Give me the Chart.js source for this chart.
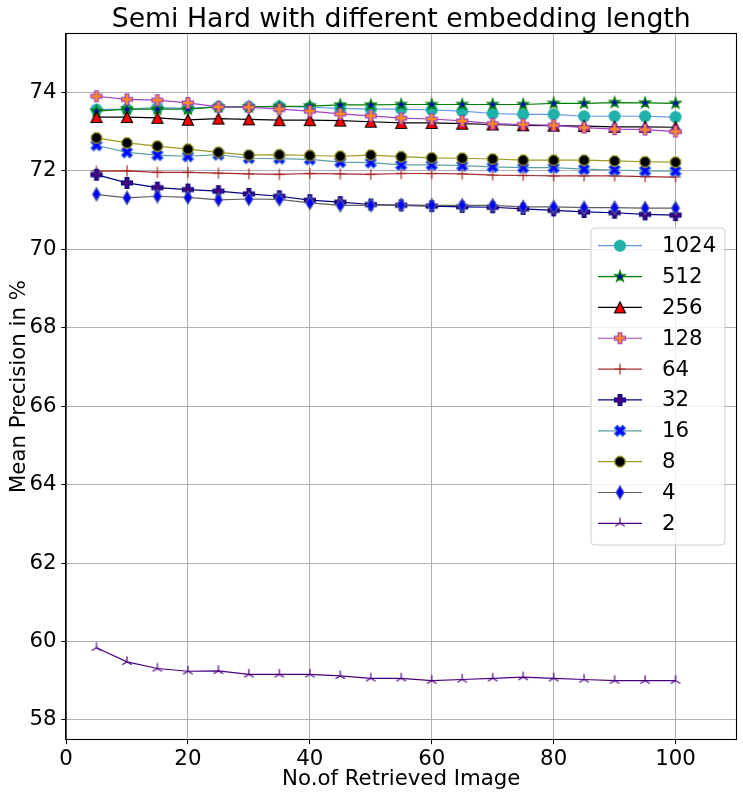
<!DOCTYPE html>
<html>
<head>
<meta charset="utf-8">
<script src="https://cdn.jsdelivr.net/npm/chart.js@4.4.1/dist/chart.umd.min.js"></script>
<style>
  html, body { margin: 0; padding: 0; background: #ffffff; }
  #wrap { width: 743px; height: 798px; }
</style>
</head>
<body>
<div id="wrap"><canvas id="c" width="743" height="798"></canvas></div>
<script>
// ---------------- data ----------------
const chartTitle = 'Semi Hard with different embedding length';
const xLabel = 'No.of Retrieved Image';
const yLabel = 'Mean Precision in %';
const retrieved = [5, 10, 15, 20, 25, 30, 35, 40, 45, 50, 55, 60, 65, 70, 75, 80, 85, 90, 95, 100];
const xTicks = [0, 20, 40, 60, 80, 100];
const yTicks = [58, 60, 62, 64, 66, 68, 70, 72, 74];
const seriesNames = ['1024', '512', '256', '128', '64', '32', '16', '8', '4', '2'];

const p1024 = [73.56, 73.57, 73.61, 73.59, 73.63, 73.63, 73.64, 73.62, 73.59, 73.57, 73.57, 73.55, 73.52, 73.46, 73.44, 73.44, 73.39, 73.39, 73.39, 73.37];
const p512  = [73.52, 73.57, 73.57, 73.57, 73.63, 73.63, 73.64, 73.65, 73.68, 73.68, 73.69, 73.69, 73.69, 73.69, 73.69, 73.72, 73.72, 73.74, 73.73, 73.72];
const p256  = [73.37, 73.37, 73.35, 73.30, 73.33, 73.31, 73.29, 73.29, 73.28, 73.25, 73.22, 73.22, 73.20, 73.18, 73.16, 73.15, 73.14, 73.12, 73.12, 73.11];
const p128  = [73.90, 73.82, 73.80, 73.73, 73.63, 73.62, 73.57, 73.52, 73.45, 73.40, 73.34, 73.32, 73.27, 73.20, 73.18, 73.16, 73.10, 73.06, 73.05, 73.00];
const p64   = [71.99, 72.00, 71.96, 71.96, 71.94, 71.92, 71.91, 71.93, 71.92, 71.91, 71.93, 71.93, 71.92, 71.89, 71.88, 71.87, 71.87, 71.87, 71.85, 71.84];
const p32   = [71.90, 71.69, 71.57, 71.52, 71.48, 71.41, 71.35, 71.25, 71.20, 71.14, 71.12, 71.10, 71.08, 71.07, 71.03, 70.99, 70.95, 70.93, 70.89, 70.87];
const p16   = [72.65, 72.47, 72.40, 72.37, 72.41, 72.32, 72.31, 72.29, 72.22, 72.21, 72.15, 72.15, 72.13, 72.10, 72.08, 72.08, 72.04, 72.02, 72.00, 71.99];
const p8    = [72.84, 72.71, 72.63, 72.55, 72.47, 72.40, 72.41, 72.39, 72.37, 72.40, 72.36, 72.33, 72.32, 72.30, 72.27, 72.27, 72.27, 72.25, 72.23, 72.22];
const p4    = [71.40, 71.31, 71.35, 71.32, 71.26, 71.28, 71.27, 71.18, 71.12, 71.12, 71.13, 71.12, 71.12, 71.12, 71.08, 71.08, 71.06, 71.06, 71.05, 71.05];
const p2    = [59.84, 59.48, 59.31, 59.24, 59.25, 59.16, 59.16, 59.16, 59.12, 59.06, 59.06, 59.00, 59.03, 59.06, 59.09, 59.06, 59.03, 59.00, 59.00, 59.00];

const seriesValues = [p1024, p512, p256, p128, p64, p32, p16, p8, p4, p2];

// ---------------- styles ----------------
const FONT = 'DejaVu Sans';
const styles = [
  { line: '#6495ED', shape: 'circle',   fill: '#20B2AA', edge: '#20B2AA' },
  { line: '#008000', shape: 'star',     fill: '#0000CD', edge: '#008000' },
  { line: '#000000', shape: 'triangle', fill: '#FF0000', edge: '#000000' },
  { line: '#A040C8', shape: 'plusF',    fill: '#FF8C1A', edge: '#A040C8' },
  { line: '#A52A2A', shape: 'plus',     fill: null,      edge: '#A52A2A' },
  { line: '#000080', shape: 'plusF',    fill: '#4B0082', edge: '#000080' },
  { line: '#5F9EA0', shape: 'xF',       fill: '#0000FF', edge: '#3060E0' },
  { line: '#9A9A20', shape: 'octagon',  fill: '#000000', edge: '#9A9A20' },
  { line: '#606060', shape: 'thinDiamond', fill: '#0000FF', edge: '#5060A0' },
  { line: '#4B0082', shape: 'triUp',    fill: null,      edge: '#4B0082' }
];

function makeMarker(shape, fill, edge) {
  const S = 22, c = document.createElement('canvas');
  c.width = S; c.height = S;
  const g = c.getContext('2d');
  const cx = S / 2, cy = S / 2;
  const ms = 11; // marker size in px
  const r = ms / 2;
  g.lineWidth = 1.2;
  g.strokeStyle = edge;
  g.fillStyle = fill || edge;
  g.lineJoin = 'miter';
  g.beginPath();
  if (shape === 'circle') {
    g.arc(cx, cy, r, 0, Math.PI * 2);
  } else if (shape === 'star') {
    const ro = r * 1.05, ri = ro * 0.381966;
    for (let i = 0; i < 10; i++) {
      const a = -Math.PI / 2 + i * Math.PI / 5;
      const rr = i % 2 === 0 ? ro : ri;
      const px = cx + rr * Math.cos(a), py = cy + rr * Math.sin(a);
      i === 0 ? g.moveTo(px, py) : g.lineTo(px, py);
    }
    g.closePath();
  } else if (shape === 'triangle') {
    g.moveTo(cx, cy - r);
    g.lineTo(cx - r, cy + r);
    g.lineTo(cx + r, cy + r);
    g.closePath();
  } else if (shape === 'plusF' || shape === 'xF') {
    const a = r, b = r / 3;
    const pts = [[-b, -a], [b, -a], [b, -b], [a, -b], [a, b], [b, b], [b, a], [-b, a], [-b, b], [-a, b], [-a, -b], [-b, -b]];
    const ang = shape === 'xF' ? Math.PI / 4 : 0;
    const k = shape === 'xF' ? 1.05 : 1;
    pts.forEach((p, i) => {
      const px = cx + k * (p[0] * Math.cos(ang) - p[1] * Math.sin(ang));
      const py = cy + k * (p[0] * Math.sin(ang) + p[1] * Math.cos(ang));
      i === 0 ? g.moveTo(px, py) : g.lineTo(px, py);
    });
    g.closePath();
  } else if (shape === 'octagon') {
    for (let i = 0; i < 8; i++) {
      const a = Math.PI / 8 + i * Math.PI / 4;
      const px = cx + r * Math.cos(a), py = cy + r * Math.sin(a);
      i === 0 ? g.moveTo(px, py) : g.lineTo(px, py);
    }
    g.closePath();
  } else if (shape === 'thinDiamond') {
    const h = r * 1.2, w = h * 0.6;
    g.moveTo(cx, cy - h);
    g.lineTo(cx + w, cy);
    g.lineTo(cx, cy + h);
    g.lineTo(cx - w, cy);
    g.closePath();
  } else if (shape === 'plus') {
    g.moveTo(cx - r, cy); g.lineTo(cx + r, cy);
    g.moveTo(cx, cy - r); g.lineTo(cx, cy + r);
    g.stroke();
    return c;
  } else if (shape === 'triUp') {
    for (let i = 0; i < 3; i++) {
      const a = -Math.PI / 2 + i * 2 * Math.PI / 3;
      g.moveTo(cx, cy);
      g.lineTo(cx + r * Math.cos(a), cy + r * Math.sin(a));
    }
    g.stroke();
    return c;
  }
  g.fill();
  g.stroke();
  return c;
}

const markers = styles.map(s => makeMarker(s.shape, s.fill, s.edge));
const nSeries = seriesNames.length;

const datasets = seriesNames.map((name, i) => ({
  label: name,
  data: retrieved.map((x, j) => ({ x: x, y: seriesValues[i][j] })),
  borderColor: styles[i].line,
  backgroundColor: styles[i].line,
  borderWidth: 1.2,
  pointStyle: markers[i],
  pointRadius: 5,
  pointHoverRadius: 5,
  tension: 0,
  fill: false,
  order: nSeries - 1 - i
}));

// ---------------- plugins ----------------
const framePlugin = {
  id: 'frame',
  afterDraw(chart) {
    const { ctx, chartArea: a } = chart;
    ctx.save();
    // title
    ctx.fillStyle = '#000';
    ctx.font = '26.7px "' + FONT + '"';
    ctx.textAlign = 'center';
    ctx.textBaseline = 'alphabetic';
    ctx.fillText(chartTitle, (a.left + a.right) / 2, a.top - 6.8);
    // frame
    ctx.strokeStyle = '#000';
    ctx.lineWidth = 1.1;
    ctx.strokeRect(a.left, a.top, a.right - a.left, a.bottom - a.top);

    // legend (center right, inside axes)
    const boxW = 134, boxH = 317;
    const bx = a.right - 11.5 - boxW;
    const by = (a.top + a.bottom) / 2 - boxH / 2;
    ctx.globalAlpha = 0.8;
    ctx.fillStyle = '#ffffff';
    ctx.beginPath();
    ctx.roundRect(bx, by, boxW, boxH, 4);
    ctx.fill();
    ctx.globalAlpha = 1;
    ctx.strokeStyle = '#d0d0d0';
    ctx.lineWidth = 1;
    ctx.stroke();
    const rowH = 30.85;
    ctx.font = '21.3px "' + FONT + '"';
    ctx.textAlign = 'left';
    ctx.textBaseline = 'middle';
    chart.data.datasets.forEach((ds, i) => {
      const y = by + 17.7 + i * rowH;
      ctx.strokeStyle = ds.borderColor;
      ctx.lineWidth = ds.borderWidth;
      ctx.beginPath();
      ctx.moveTo(bx + 7, y);
      ctx.lineTo(bx + 51, y);
      ctx.stroke();
      const m = ds.pointStyle;
      ctx.drawImage(m, bx + 29 - m.width / 2, y - m.height / 2);
      ctx.fillStyle = '#000';
      ctx.fillText(ds.label, bx + 71, y + 1);
    });
    ctx.restore();
  }
};

// ---------------- chart ----------------
new Chart(document.getElementById('c'), {
  type: 'line',
  data: { datasets },
  options: {
    responsive: false,
    animation: false,
    devicePixelRatio: 1,
    layout: { padding: { top: 33.5, right: 6.5, left: 0, bottom: 0 } },
    plugins: {
      legend: { display: false },
      title: { display: false },
      tooltip: { enabled: false }
    },
    scales: {
      x: {
        type: 'linear',
        min: 0,
        max: 110,
        afterBuildTicks: s => { s.ticks = xTicks.map(v => ({ value: v })); },
        afterFit: s => { s.height = 58.5; },
        ticks: {
          color: '#000',
          font: { family: FONT, size: 21.3 },
          padding: 2,
          maxRotation: 0,
          autoSkip: false,
          callback: v => String(v)
        },
        grid: { color: '#b0b0b0', lineWidth: 1, tickColor: '#000', tickLength: 4.7, drawTicks: true },
        border: { display: true, color: '#000', width: 1.1 },
        title: {
          display: true,
          text: xLabel,
          color: '#000',
          font: { family: FONT, size: 21.3 },
          padding: { top: 0, bottom: 6 }
        }
      },
      y: {
        type: 'linear',
        min: 57.5,
        max: 75.5,
        afterBuildTicks: s => { s.ticks = yTicks.map(v => ({ value: v })); },
        afterFit: s => { s.width = 66; },
        ticks: {
          color: '#000',
          font: { family: FONT, size: 21.3 },
          padding: 4.7,
          autoSkip: false,
          callback: v => String(v)
        },
        grid: { color: '#b0b0b0', lineWidth: 1, tickColor: '#000', tickLength: 4.7, drawTicks: true },
        border: { display: true, color: '#000', width: 1.1 },
        title: {
          display: true,
          text: yLabel,
          color: '#000',
          font: { family: FONT, size: 21.3 },
          padding: { top: 7, bottom: 0 }
        }
      }
    }
  },
  plugins: [framePlugin]
});
</script>
</body>
</html>
